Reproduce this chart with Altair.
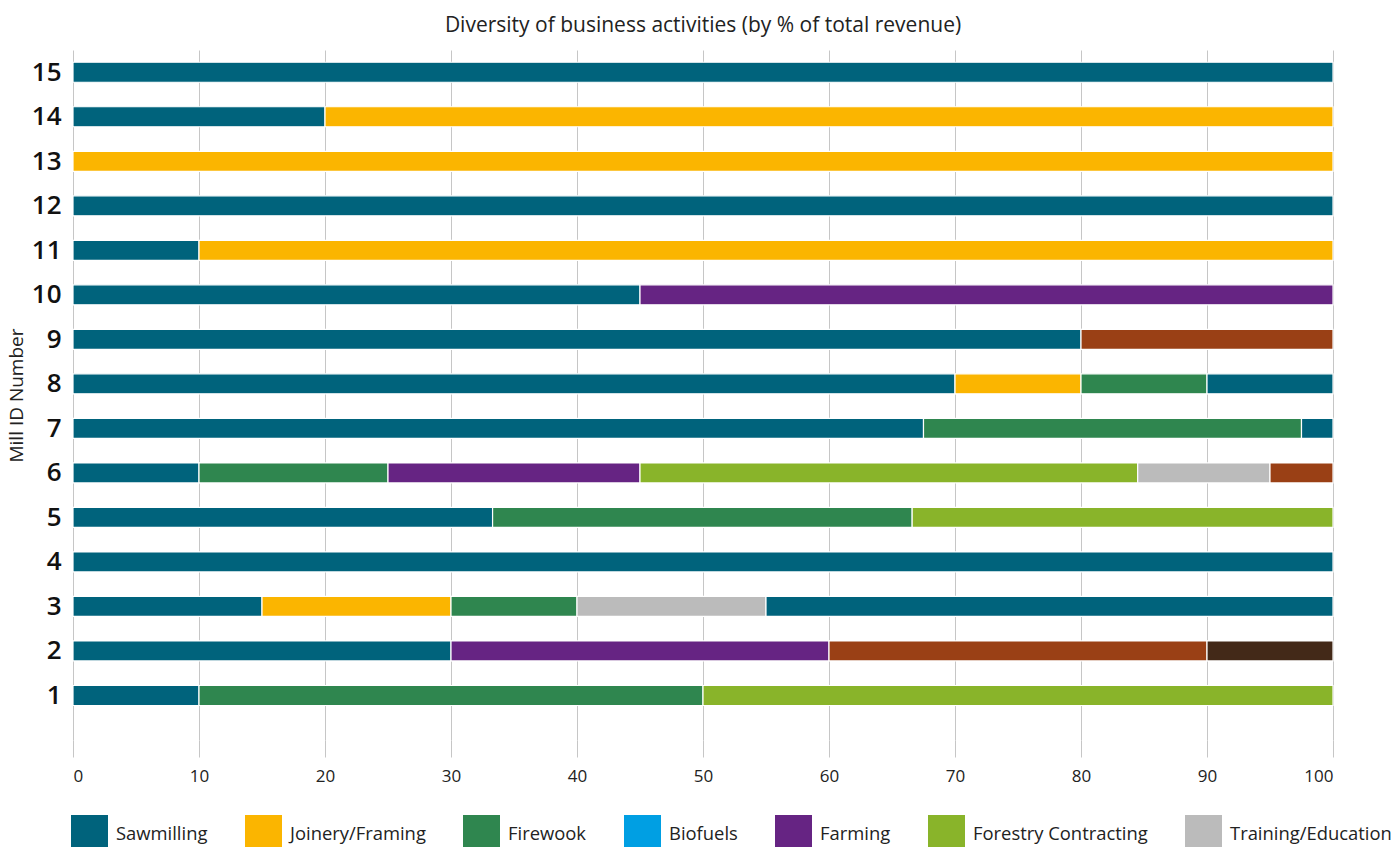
import altair as alt
import pandas as pd

# ---- data ----
activities = ["Sawmilling", "Joinery/Framing", "Firewook", "Biofuels", "Farming",
              "Forestry Contracting", "Training/Education", "Other", "Other (2)"]
colors = ["#00637c", "#fbb500", "#2f864f", "#009fe3", "#662483",
          "#89b42a", "#bbbbbb", "#9a4015", "#432918"]
legend_items = activities[:7]

seg_mill = [15,
            14, 14,
            13,
            12,
            11, 11,
            10, 10,
            9, 9,
            8, 8, 8, 8,
            7, 7, 7,
            6, 6, 6, 6, 6, 6,
            5, 5, 5,
            4,
            3, 3, 3, 3, 3,
            2, 2, 2, 2,
            1, 1, 1]
seg_activity = ["Sawmilling",
                "Sawmilling", "Joinery/Framing",
                "Joinery/Framing",
                "Sawmilling",
                "Sawmilling", "Joinery/Framing",
                "Sawmilling", "Farming",
                "Sawmilling", "Other",
                "Sawmilling", "Joinery/Framing", "Firewook", "Sawmilling",
                "Sawmilling", "Firewook", "Sawmilling",
                "Sawmilling", "Firewook", "Farming", "Forestry Contracting", "Training/Education", "Other",
                "Sawmilling", "Firewook", "Forestry Contracting",
                "Sawmilling",
                "Sawmilling", "Joinery/Framing", "Firewook", "Training/Education", "Sawmilling",
                "Sawmilling", "Farming", "Other", "Other (2)",
                "Sawmilling", "Firewook", "Forestry Contracting"]
seg_share = [100,
             20, 80,
             100,
             100,
             10, 90,
             45, 55,
             80, 20,
             70, 10, 10, 10,
             67.5, 30, 2.5,
             10, 15, 20, 39.5, 10.5, 5,
             33.3, 33.3, 33.4,
             100,
             15, 15, 10, 15, 45,
             30, 30, 30, 10,
             10, 40, 50]
mill_ticks = list(range(1, 16))
x_ticks = list(range(0, 101, 10))

df = pd.DataFrame({"mill": seg_mill, "activity": seg_activity, "share": seg_share})
df["seg"] = df.groupby("mill").cumcount()
df["end"] = df.groupby("mill")["share"].cumsum()
df["start"] = df["end"] - df["share"]

FONT = "Open Sans"

chart = alt.Chart(df).mark_bar(size=20, stroke="white", strokeWidth=1.2).encode(
    x=alt.X("start:Q",
            scale=alt.Scale(domain=[0, 100], nice=False, padding=0),
            axis=alt.Axis(values=x_ticks, title=None, grid=True, gridColor="#c6c6c6",
                          gridWidth=1, domain=False, ticks=True, tickSize=17,
                          tickColor="#c6c6c6", labelFontSize=17, labelColor="#222222",
                          labelPadding=11, labelFont=FONT)),
    x2="end:Q",
    y=alt.Y("mill:Q",
            scale=alt.Scale(domain=[0, 15.5], nice=False, zero=True, padding=0),
            axis=alt.Axis(values=mill_ticks, title="Mill ID Number", grid=False,
                          domain=False, ticks=False, labelFontSize=26,
                          labelFontWeight=600, labelColor="#111111", labelPadding=12,
                          labelFont=FONT, titleFont=FONT, titleFontSize=19,
                          titleFontWeight="normal", titleColor="#222222",
                          titlePadding=5, format="d")),
    color=alt.Color("activity:N",
                    scale=alt.Scale(domain=activities, range=colors),
                    legend=alt.Legend(values=legend_items, title=None, orient="none",
                                      direction="horizontal", legendX=-2, legendY=765,
                                      symbolType="square", symbolSize=1369,
                                      symbolStrokeWidth=0, symbolOpacity=1,
                                      labelFontSize=18.4, labelFont=FONT,
                                      labelColor="#222222", labelOffset=8,
                                      labelLimit=0,
                                      columnPadding=37, padding=0, columns=7)),
    order=alt.Order("seg:Q"),
).properties(
    width=1260,
    height=690,
    title=alt.TitleParams("Diversity of business activities (by % of total revenue)",
                          font=FONT, fontSize=21, fontWeight="normal",
                          color="#222222", anchor="middle", offset=14),
    autosize=alt.AutoSizeParams(type="none"),
    padding={"left": 73, "top": 50, "right": 65, "bottom": 107},
).configure_view(stroke=None)

chart.save("out.html", embed_options={"renderer": "svg", "actions": False})
